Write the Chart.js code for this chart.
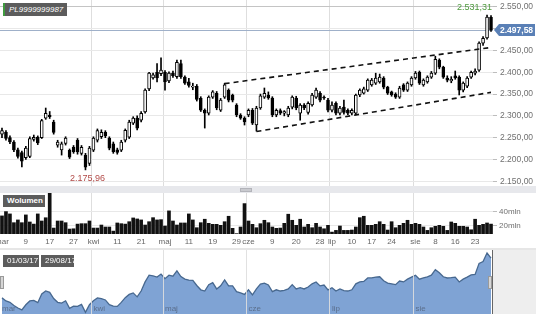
<!DOCTYPE html>
<html>
<head>
<meta charset="utf-8">
<script src="https://cdn.jsdelivr.net/npm/chart.js@4.4.1/dist/chart.umd.min.js"></script>
<style>
  html, body { margin: 0; padding: 0; background: #fff; }
  body { width: 536px; height: 314px; position: relative; overflow: hidden; font-family: 'Liberation Sans', Arial, sans-serif; }
  .box { position: absolute; left: 0; width: 536px; }
  canvas { display: block; }
  #mainBox { top: 0; height: 186px; }
  #splitter { top: 186px; height: 7px; background: #e7e8ec; }
  #grip { position: absolute; left: 240px; top: 2px; width: 10px; height: 2px; background: #c9cacf; border: 1px solid #b3b4ba; }
  #volBox { top: 193px; height: 55px; }
  #navBand { top: 248px; height: 2px; background: #e6e6e6; }
  #navBox { top: 250px; height: 64px; background: linear-gradient(to right, #fff 493px, #eeeeee 493px); }
  #navEdge { position: absolute; left: 492px; top: 250px; width: 1px; height: 64px; background: #666; }
  .handle { position: absolute; top: 276px; width: 2px; height: 11px; background: #d6d6d6; border: 1px solid #9a9a9a; }
  .tag { position: absolute; height: 12px; line-height: 12px; background: #5c5c5c; color: #fff; font-size: 8px; padding: 0 4px; white-space: nowrap; }
</style>
</head>
<body>
<div class="box" id="mainBox"><canvas id="mainChart" width="536" height="186"></canvas></div>
<div class="box" id="splitter"><div id="grip"></div></div>
<div class="box" id="volBox"><canvas id="volChart" width="536" height="55"></canvas></div>
<div class="box" id="navBand"></div>
<div class="box" id="navBox"><canvas id="navChart" width="536" height="64"></canvas></div>
<div id="navEdge"></div>
<div class="handle" style="left:0px"></div>
<div class="handle" style="left:488px"></div>

<div class="tag" style="left:3px; top:3px; width:54px; height:13px; line-height:13px; border-left:2px solid #3f9b3f; font-style:italic;">PL9999999987</div>
<div class="tag" style="left:3px; top:195px; width:34px; font-weight:bold;">Wolumen</div>
<div class="tag" style="left:3px; top:255px; width:28px;">01/03/17</div>
<div class="tag" style="left:41px; top:255px; width:25px;">29/08/17</div>

<script>
/* dane: sesje od 01.03 do 29.08.2017 */
const dates = [
  '01.03','02.03','03.03','06.03','07.03','08.03','09.03','10.03','13.03','14.03','15.03','16.03','17.03',
  '20.03','21.03','22.03','23.03','24.03','27.03','28.03','29.03','30.03','31.03',
  '03.04','04.04','05.04','06.04','07.04','10.04','11.04','12.04','13.04','18.04','19.04','20.04','21.04',
  '24.04','25.04','26.04','27.04','28.04',
  '02.05','04.05','05.05','08.05','09.05','10.05','11.05','12.05','15.05','16.05','17.05','18.05','19.05',
  '22.05','23.05','24.05','25.05','26.05','29.05','30.05','31.05',
  '01.06','02.06','05.06','06.06','07.06','08.06','09.06','12.06','13.06','14.06','16.06','19.06','20.06',
  '21.06','22.06','23.06','26.06','27.06','28.06','29.06','30.06',
  '03.07','04.07','05.07','06.07','07.07','10.07','11.07','12.07','13.07','14.07','17.07','18.07','19.07',
  '20.07','21.07','24.07','25.07','26.07','27.07','28.07','31.07',
  '01.08','02.08','03.08','04.08','07.08','08.08','09.08','10.08','11.08','14.08','16.08','17.08','18.08',
  '21.08','22.08','23.08','24.08','25.08','28.08','29.08'
];

const opens = [
  2258, 2262, 2250, 2240, 2222, 2216, 2204, 2207, 2246, 2251, 2250, 2295, 2302, 2286, 2233, 2222, 2237, 2221, 2228, 2244, 2214, 2210, 2191,
  2221, 2244, 2252, 2262, 2249, 2236, 2222, 2221, 2244, 2251, 2283, 2295, 2290, 2309, 2362, 2387, 2400, 2397,
  2400, 2380, 2398, 2390, 2420, 2389, 2378, 2366, 2368, 2340, 2313, 2306, 2343, 2352, 2313, 2343, 2359, 2348, 2325, 2302, 2295,
  2302, 2313, 2279, 2318, 2343, 2348, 2341, 2302, 2312, 2306, 2302, 2320, 2341, 2306, 2325, 2308, 2325, 2343, 2352, 2343, 2336,
  2313, 2329, 2306, 2320, 2313, 2306, 2306, 2348, 2352, 2359, 2371, 2375, 2378, 2387, 2366, 2355, 2350, 2343, 2371, 2359, 2371,
  2387, 2400, 2371, 2378, 2389, 2398, 2428, 2412, 2387, 2380, 2392, 2389, 2359, 2368, 2389, 2398, 2405, 2467, 2479, 2526
];
const highs = [
  2272, 2266, 2254, 2243, 2226, 2219, 2230, 2252, 2256, 2254, 2292, 2318, 2310, 2290, 2244, 2240, 2252, 2224, 2232, 2248, 2232, 2214, 2230,
  2252, 2270, 2268, 2266, 2252, 2240, 2226, 2244, 2270, 2290, 2298, 2300, 2310, 2362, 2400, 2398, 2420, 2433,
  2404, 2401, 2403, 2428, 2428, 2392, 2386, 2375, 2372, 2344, 2316, 2346, 2358, 2356, 2340, 2375, 2362, 2350, 2328, 2305, 2298,
  2316, 2317, 2322, 2350, 2364, 2355, 2344, 2316, 2316, 2312, 2322, 2346, 2345, 2328, 2328, 2332, 2352, 2364, 2356, 2346, 2340,
  2332, 2332, 2322, 2336, 2316, 2316, 2350, 2362, 2366, 2385, 2386, 2398, 2396, 2390, 2368, 2357, 2353, 2368, 2374, 2378, 2390,
  2402, 2403, 2385, 2392, 2402, 2437, 2431, 2414, 2392, 2390, 2403, 2392, 2378, 2390, 2403, 2408, 2470, 2482, 2531.31, 2530
];
const lows = [
  2250, 2244, 2236, 2218, 2203, 2183, 2200, 2204, 2242, 2234, 2248, 2292, 2294, 2258, 2228, 2210, 2233, 2202, 2214, 2212, 2210, 2175.96, 2186,
  2218, 2240, 2248, 2250, 2222, 2214, 2212, 2218, 2240, 2248, 2280, 2268, 2286, 2306, 2358, 2384, 2378, 2392,
  2359, 2376, 2388, 2386, 2386, 2372, 2366, 2360, 2334, 2310, 2272, 2302, 2340, 2314, 2310, 2340, 2332, 2332, 2298, 2292, 2279,
  2298, 2280, 2265, 2315, 2340, 2338, 2298, 2298, 2303, 2300, 2298, 2316, 2314, 2290, 2314, 2304, 2322, 2340, 2332, 2338, 2309,
  2309, 2302, 2302, 2304, 2303, 2302, 2302, 2344, 2350, 2356, 2368, 2372, 2375, 2362, 2349, 2345, 2340, 2340, 2356, 2356, 2368,
  2384, 2372, 2368, 2375, 2386, 2395, 2408, 2386, 2378, 2376, 2384, 2348, 2355, 2365, 2386, 2394, 2402, 2462, 2476, 2494
];
const closes = [
  2266, 2248, 2240, 2222, 2207, 2196, 2226, 2248, 2251, 2238, 2289, 2306, 2298, 2262, 2240, 2236, 2249, 2205, 2218, 2217, 2228, 2182, 2226,
  2249, 2266, 2262, 2254, 2226, 2218, 2216, 2240, 2267, 2286, 2295, 2272, 2306, 2359, 2398, 2394, 2387, 2405,
  2378, 2398, 2392, 2423, 2390, 2375, 2370, 2368, 2338, 2313, 2306, 2343, 2355, 2318, 2336, 2371, 2336, 2336, 2302, 2295, 2286,
  2313, 2283, 2318, 2346, 2352, 2341, 2302, 2313, 2306, 2310, 2318, 2343, 2318, 2325, 2318, 2329, 2348, 2359, 2336, 2341, 2313,
  2325, 2306, 2318, 2308, 2306, 2313, 2348, 2359, 2362, 2382, 2382, 2387, 2389, 2366, 2352, 2348, 2343, 2364, 2359, 2375, 2387,
  2398, 2375, 2382, 2389, 2398, 2430, 2412, 2389, 2382, 2384, 2387, 2359, 2375, 2387, 2400, 2403, 2467, 2478, 2527, 2497.58
];

// wolumen w mln
const volumes = [
  33.6, 39.7, 36.4, 24, 27.9, 24, 35, 25, 22, 36.4, 26.4, 31, 72, 16.4, 26.4, 26.4, 24, 15, 15.4, 22, 22.6, 22.6, 26.4,
  16.4, 16.4, 20.7, 17.9, 17.9, 12.1, 23.6, 22.6, 22, 25.4, 30.7, 29.3, 27.9, 20.7, 25.4, 31.1, 27.9, 28.3,
  19.3, 40.7, 26.4, 20.7, 23.6, 23.6, 36.4, 27.9, 16.9, 24, 28.9, 23.1, 21.7, 21.7, 20.3, 25.4, 33.1, 16, 8.5, 17.9, 51,
  26.4, 21.7, 16.9, 22.6, 27.4, 24, 17.9, 16, 16.4, 23.1, 36, 27.4, 20.3, 28.9, 17.9, 21.7, 16.9, 23.1, 17.9, 15.4, 20.3,
  10.7, 13.1, 19.3, 13.1, 13.1, 13.6, 17.9, 31.1, 33.1, 20.3, 20.3, 21.7, 25.4, 21.7, 13.6, 25.4, 16.9, 20.3, 23.1, 27.4, 21.7,
  23.1, 21.7, 17.9, 13.1, 16.9, 18.9, 20.3, 18.9, 13.1, 25, 23.1, 18.9, 18.9, 17.9, 14, 28.9, 20.3, 21.7, 23.6, 22
];

// kanał trendu (data, kurs)
const upperChannel = [['24.05', 2374], ['29.08', 2457]];
const lowerChannel = [['05.06', 2264], ['29.08', 2354]];

const priceTicks = [2150, 2200, 2250, 2300, 2350, 2400, 2450, 2500, 2550];
const volumeTicks = [20, 40];
const axisLabels = {
  '01.03': 'mar', '09.03': '9', '17.03': '17', '27.03': '27',
  '03.04': 'kwi', '11.04': '11', '21.04': '21',
  '02.05': 'maj', '11.05': '11', '19.05': '19', '29.05': '29',
  '01.06': 'cze', '09.06': '9', '20.06': '20', '28.06': '28',
  '03.07': 'lip', '10.07': '10', '17.07': '17', '24.07': '24',
  '01.08': 'sie', '08.08': '8', '16.08': '16', '23.08': '23'
};

const FONT = "'Liberation Sans', Arial, sans-serif";
Chart.defaults.font.family = FONT;

function fmtPL(v) {
    const [i, d] = v.toFixed(2).split('.');
    return i.replace(/\B(?=(\d{3})+(?!\d))/g, '.') + ',' + d;
}
// pierwszy dzień miesiąca -> pionowa linia siatki
function isMonthStart(i) {
    return i > 0 && i < dates.length && dates[i].slice(3) !== dates[i - 1].slice(3);
}
const monthGrid = color => ctx => isMonthStart(ctx.index) ? color : 'rgba(0,0,0,0)';

const lowIdx = lows.indexOf(Math.min(...lows));
const highIdx = highs.indexOf(Math.max(...highs));
const lastClose = closes[closes.length - 1];

/* adnotacje na wykresie kursu */
const mainNotes = {
    id: 'mainNotes',
    beforeDatasetsDraw(chart) {
        const { ctx, chartArea: a, scales: { y } } = chart;
        const py = Math.round(y.getPixelForValue(lastClose)) + 0.5;
        ctx.save();
        ctx.strokeStyle = '#9fb0c9';
        ctx.lineWidth = 1;
        ctx.beginPath();
        ctx.moveTo(a.left, py);
        ctx.lineTo(a.right, py);
        ctx.stroke();
        ctx.restore();
    },
    afterDraw(chart) {
        const { ctx, chartArea: a, scales: { x, y } } = chart;
        ctx.save();
        // min
        ctx.font = '9px ' + FONT;
        ctx.textAlign = 'center';
        ctx.textBaseline = 'middle';
        ctx.fillStyle = '#b24a47';
        ctx.fillText(fmtPL(lows[lowIdx]), x.getPixelForValue(lowIdx) + 2, y.getPixelForValue(lows[lowIdx]) + 9);
        // max
        ctx.textAlign = 'right';
        ctx.fillStyle = '#4e9a3e';
        ctx.fillText(fmtPL(highs[highIdx]), a.right - 1, y.getPixelForValue(highs[highIdx]) - 8);
        // ostatni kurs
        const py = Math.round(y.getPixelForValue(lastClose));
        const l = a.right + 1;
        ctx.fillStyle = '#5a80b6';
        ctx.beginPath();
        ctx.moveTo(l, py);
        ctx.lineTo(l + 5, py - 6);
        ctx.lineTo(l + 41, py - 6);
        ctx.lineTo(l + 41, py + 6);
        ctx.lineTo(l + 5, py + 6);
        ctx.closePath();
        ctx.fill();
        ctx.fillStyle = '#fff';
        ctx.font = 'bold 8.5px ' + FONT;
        ctx.textAlign = 'left';
        ctx.fillText(fmtPL(lastClose), l + 6, py + 0.5);
        ctx.restore();
    }
};

new Chart(document.getElementById('mainChart'), {
    type: 'bar',
    data: {
        labels: dates,
        datasets: [
            {
                // knoty
                data: lows.map((l, i) => [l, highs[i]]),
                backgroundColor: '#000',
                barThickness: 1,
                grouped: false,
                order: 2
            },
            {
                // korpusy świec
                data: opens.map((o, i) => [o, closes[i]]),
                backgroundColor: opens.map((o, i) => closes[i] >= o ? '#fff' : '#000'),
                borderColor: '#000',
                borderWidth: 1,
                borderSkipped: false,
                barThickness: 3,
                minBarLength: 1,
                grouped: false,
                order: 1
            },
            {
                type: 'line',
                data: upperChannel.map(p => ({ x: p[0], y: p[1] })),
                borderColor: '#111',
                borderWidth: 1.6,
                borderDash: [5, 4],
                pointRadius: 0,
                order: 0
            },
            {
                type: 'line',
                data: lowerChannel.map(p => ({ x: p[0], y: p[1] })),
                borderColor: '#111',
                borderWidth: 1.6,
                borderDash: [5, 4],
                pointRadius: 0,
                order: 0
            }
        ]
    },
    options: {
        responsive: false,
        animation: false,
        devicePixelRatio: 1,
        layout: { padding: 0 },
        plugins: { legend: { display: false }, tooltip: { enabled: false } },
        scales: {
            x: {
                offset: true,
                grid: { offset: true, drawTicks: false, color: monthGrid('#dedede') },
                border: { display: false },
                ticks: { display: false, autoSkip: false }
            },
            y: {
                position: 'right',
                min: 2139,
                max: 2566,
                afterBuildTicks: s => { s.ticks = priceTicks.map(v => ({ value: v })); },
                afterFit: s => { s.width = 43; s.paddingTop = 0; s.paddingBottom = 0; },
                grid: {
                    color: ctx => ctx.tick && ctx.tick.value === 2550 ? '#c4c4c4' : '#e8e8e8',
                    tickLength: 4,
                    tickColor: '#bdbdbd'
                },
                border: { display: false },
                ticks: { padding: 3, color: '#707070', font: { size: 8.5 }, callback: v => fmtPL(v) }
            }
        }
    },
    plugins: [mainNotes]
});

/* wolumen */
new Chart(document.getElementById('volChart'), {
    type: 'bar',
    data: {
        labels: dates,
        datasets: [{ data: volumes, backgroundColor: '#111', barThickness: 3 }]
    },
    options: {
        responsive: false,
        animation: false,
        devicePixelRatio: 1,
        layout: { padding: 0 },
        plugins: { legend: { display: false }, tooltip: { enabled: false } },
        scales: {
            x: {
                offset: true,
                grid: { offset: true, drawTicks: false, color: monthGrid('#dedede') },
                border: { display: false },
                ticks: {
                    autoSkip: false, maxRotation: 0, minRotation: 0, padding: 3,
                    color: '#666', font: { size: 8 },
                    callback: (v, i) => axisLabels[dates[i]] || ''
                },
                afterFit: s => { s.height = 14; s.paddingLeft = 0; s.paddingRight = 0; }
            },
            y: {
                position: 'right',
                min: 8,
                max: 66,
                afterBuildTicks: s => { s.ticks = volumeTicks.map(v => ({ value: v })); },
                afterFit: s => { s.width = 43; s.paddingTop = 0; s.paddingBottom = 0; },
                grid: { color: '#e8e8e8', tickLength: 4, tickColor: '#bdbdbd' },
                border: { display: false },
                ticks: { padding: 2, color: '#707070', font: { size: 8 }, callback: v => v + 'mln' }
            }
        }
    }
});

/* nawigator */
const navLabels = {
    id: 'navLabels',
    afterDraw(chart) {
        const { ctx, chartArea: a, scales: { x } } = chart;
        const half = (x.getPixelForValue(1) - x.getPixelForValue(0)) / 2;
        ctx.save();
        ctx.font = '8px ' + FONT;
        ctx.fillStyle = '#5b6f8d';
        ctx.textAlign = 'left';
        ctx.textBaseline = 'alphabetic';
        dates.forEach((d, i) => {
            const lab = axisLabels[d];
            if (lab && isNaN(+lab)) {
                ctx.fillText(lab, x.getPixelForValue(i) - half + 2, a.bottom - 3);
            }
        });
        ctx.restore();
    }
};

new Chart(document.getElementById('navChart'), {
    type: 'line',
    data: {
        labels: dates,
        datasets: [{
            data: closes,
            borderColor: '#47688f',
            borderWidth: 1.3,
            backgroundColor: '#7fa3d4',
            fill: 'start',
            pointRadius: 0,
            tension: 0
        }]
    },
    options: {
        responsive: false,
        animation: false,
        devicePixelRatio: 1,
        layout: { padding: { right: 43 } },
        plugins: { legend: { display: false }, tooltip: { enabled: false } },
        scales: {
            x: {
                offset: true,
                grid: { offset: true, drawTicks: false, z: 1, color: monthGrid('rgba(222,222,222,0.9)') },
                border: { display: false },
                ticks: { display: false, autoSkip: false }
            },
            y: { display: false, min: 2172, max: 2545 }
        }
    },
    plugins: [navLabels]
});
</script>
</body>
</html>
